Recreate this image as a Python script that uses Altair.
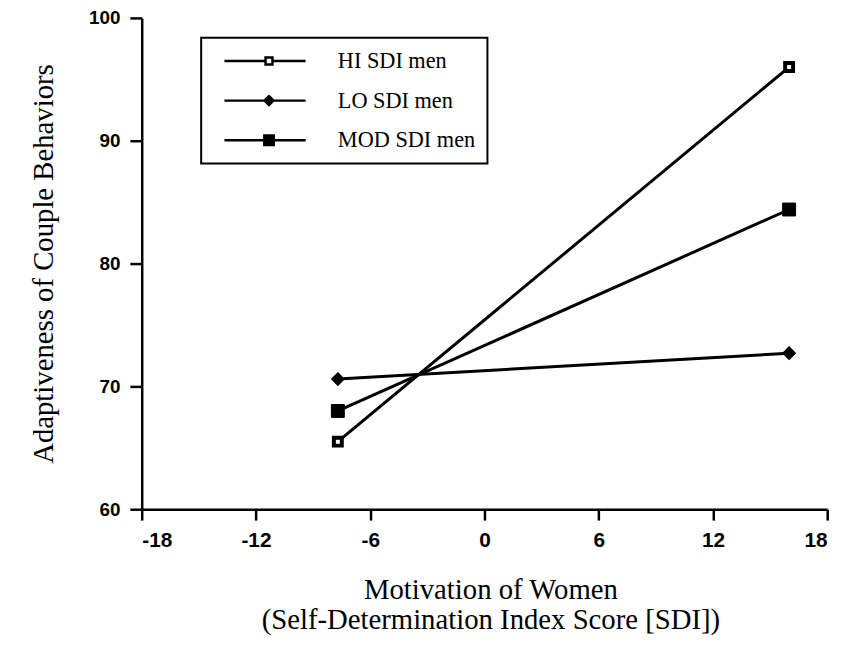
import altair as alt
import pandas as pd

series = ["HI SDI men", "LO SDI men", "MOD SDI men"]
x_vals = [-7.7, 16]
hi_vals = [65.5, 96.0]
lo_vals = [70.6, 72.7]
mod_vals = [68.0, 84.4]
x_ticks = [-18, -12, -6, 0, 6, 12, 18]
y_ticks = [60, 70, 80, 90, 100]

rows = []
for name, vals in zip(series, [hi_vals, lo_vals, mod_vals]):
    for xv, yv in zip(x_vals, vals):
        rows.append({"series": name, "x": xv, "y": yv})
df = pd.DataFrame(rows)

x_enc = alt.X("x:Q", scale=alt.Scale(domain=[-18, 18], nice=False, zero=False),
              axis=alt.Axis(values=x_ticks,
                            labelExpr="datum.value < 0 ? '-' + abs(datum.value) : '' + datum.value",
                            labelFont="Liberation Sans", labelFontSize=21, labelPadding=10,
                            tickSize=11,
                            title=["Motivation of Women", "(Self-Determination Index Score [SDI])"],
                            titleFontSize=29, titleLineHeight=30, titleBaseline="alphabetic",
                            titleY=90, titleX=352))
y_enc = alt.Y("y:Q", scale=alt.Scale(domain=[60, 100], nice=False, zero=False),
              axis=alt.Axis(values=y_ticks, title="Adaptiveness of Couple Behaviors",
                            labelFont="Liberation Sans", labelFontSize=19, labelPadding=10,
                            tickSize=12,
                            titleFontSize=29, titleAngle=270, titleBaseline="alphabetic",
                            titleX=-90, titleY=248, titleAlign="center"))

lines = alt.Chart(df).mark_line(color="black", strokeWidth=3).encode(
    x=x_enc, y=y_enc, detail="series:N")

points = alt.Chart(df).mark_point(color="black", opacity=1).encode(
    x="x:Q", y="y:Q",
    shape=alt.Shape("series:N", scale=alt.Scale(domain=series, range=["square", "diamond", "square"]), legend=None),
    fill=alt.Fill("series:N", scale=alt.Scale(domain=series, range=["white", "black", "black"]), legend=None),
    size=alt.Size("series:N", scale=alt.Scale(domain=series, range=[64, 170, 144]), legend=None),
    strokeWidth=alt.StrokeWidth("series:N", scale=alt.Scale(domain=series, range=[4, 1, 1]), legend=None),
)

legend_paths = [
    "M0,0H4.15M4.85,0H8.2M4.15,-0.35H4.85V0.35H4.15Z",
    "M0,0H8.2M4.5,-0.45L4.95,0L4.5,0.45L4.05,0ZM4.5,-0.2L4.7,0L4.5,0.2L4.3,0Z",
    "M0,0H8.2M4.025,-0.475H4.975V0.475H4.025ZM4.25,-0.25H4.75V0.25H4.25Z",
]

legend_layer = alt.Chart(df).mark_point(color="black", filled=False, opacity=0).encode(
    x="x:Q", y="y:Q",
    shape=alt.Shape("series:N", scale=alt.Scale(domain=series, range=legend_paths),
                    legend=alt.Legend(title=None, orient="none", legendX=60, legendY=20,
                                      strokeColor="black", padding=12,
                                      symbolSize=400, symbolStrokeWidth=2.5,
                                      symbolStrokeColor="black", symbolOpacity=1,
                                      labelOffset=103, rowPadding=17,
                                      labelFont="Liberation Serif", labelFontSize=22.5,
                                      labelColor="black", labelLimit=300)),
)

chart = alt.layer(lines, points, legend_layer).resolve_scale(
    shape="independent"
).properties(
    width=692, height=496,
    autosize=alt.AutoSizeParams(type="none"),
    padding={"left": 135, "top": 7, "right": 20, "bottom": 126},
).configure_view(stroke=None).configure_axis(
    grid=False, domainColor="black", domainWidth=2.5, tickColor="black", tickWidth=2.5,
    labelFontWeight="bold", labelColor="black",
    titleFont="Liberation Serif", titleFontWeight="normal", titleColor="black",
).configure_legend(strokeWidth=2)

chart.save("out.html", embed_options={"renderer": "svg", "actions": False})
